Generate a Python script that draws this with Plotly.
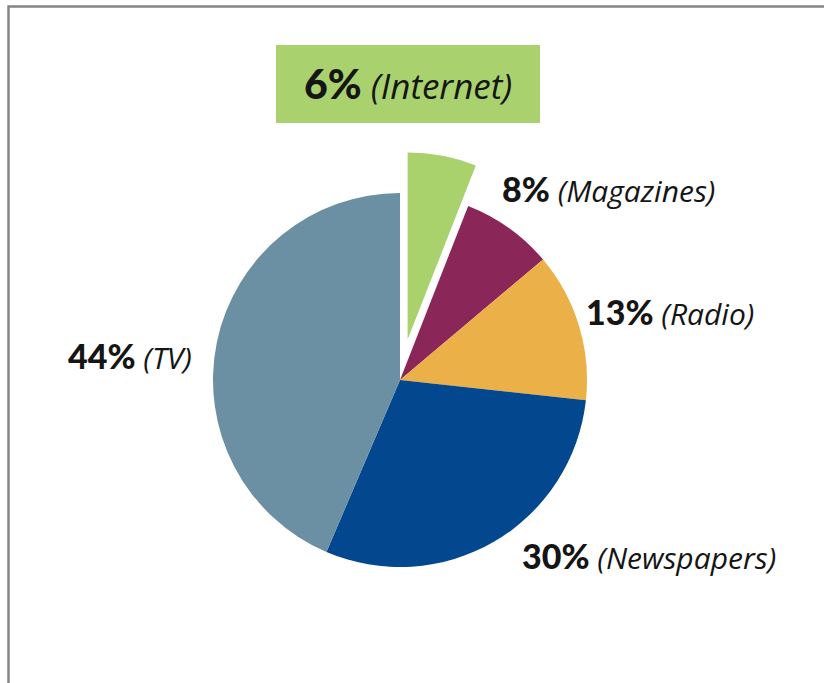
import plotly.graph_objects as go

categories = ["Internet", "Magazines", "Radio", "Newspapers", "TV"]
values = [6, 8, 13, 30, 44]
colors = ["#A9D16C", "#8B2658", "#EBB048", "#03488E", "#6B8FA3"]
pulls = [0.22, 0, 0, 0, 0]

W, H = 824, 683
cx, cy, R = 400, 380, 187
half = R * (1 + max(pulls))

fig = go.Figure()
fig.add_trace(go.Pie(
    labels=categories, values=values, sort=False, direction="clockwise",
    rotation=0, pull=pulls, marker=dict(colors=colors, line=dict(width=0)),
    textinfo="none", hoverinfo="label+percent", showlegend=False,
    domain=dict(x=[(cx - half) / W, (cx + half) / W],
                y=[1 - (cy + half) / H, 1 - (cy - half) / H]),
))

def px(x):
    return x / W

def py(y):
    return 1 - y / H

def lab(pct, name, psize, nsize):
    return (f"<span style='font-family:Lato;font-weight:900;font-size:{psize}px'>{pct}%</span>"
            f"<span style='font-size:{nsize}px'>&nbsp;</span>"
            f"<span style='font-family:Open Sans;font-style:italic;font-size:{nsize}px'>({name})</span>")

# label positions (pixel) : (x, y, anchor)
label_pos = {
    "Internet": (408, 84, "center"),
    "Magazines": (500, 190, "left"),
    "Radio": (584, 313, "left"),
    "Newspapers": (520, 556, "left"),
    "TV": (194, 356, "right"),
}

annotations = []
for c, v in zip(categories, values):
    x, y, anc = label_pos[c]
    big = c == "Internet"
    annotations.append(dict(
        x=px(x), y=py(y), xref="paper", yref="paper", xanchor=anc, yanchor="middle",
        text=lab(v, c, 41 if big else 34, 35 if big else 30),
        showarrow=False, font=dict(family="Open Sans", color="#151515"),
    ))

shapes = [
    dict(type="rect", xref="paper", yref="paper",
         x0=px(276), x1=px(540), y0=py(123), y1=py(45),
         fillcolor="#A9D16E", line=dict(width=0), layer="below"),
    dict(type="rect", xref="paper", yref="paper",
         x0=px(8.5), x1=px(W + 20), y0=py(H + 20), y1=py(6.5),
         fillcolor="rgba(0,0,0,0)", line=dict(color="#858585", width=2.5)),
]

fig.update_layout(
    width=W, height=H, margin=dict(l=0, r=0, t=0, b=0),
    paper_bgcolor="white", plot_bgcolor="white",
    annotations=annotations, shapes=shapes,
)

fig.write_html("out.html")
